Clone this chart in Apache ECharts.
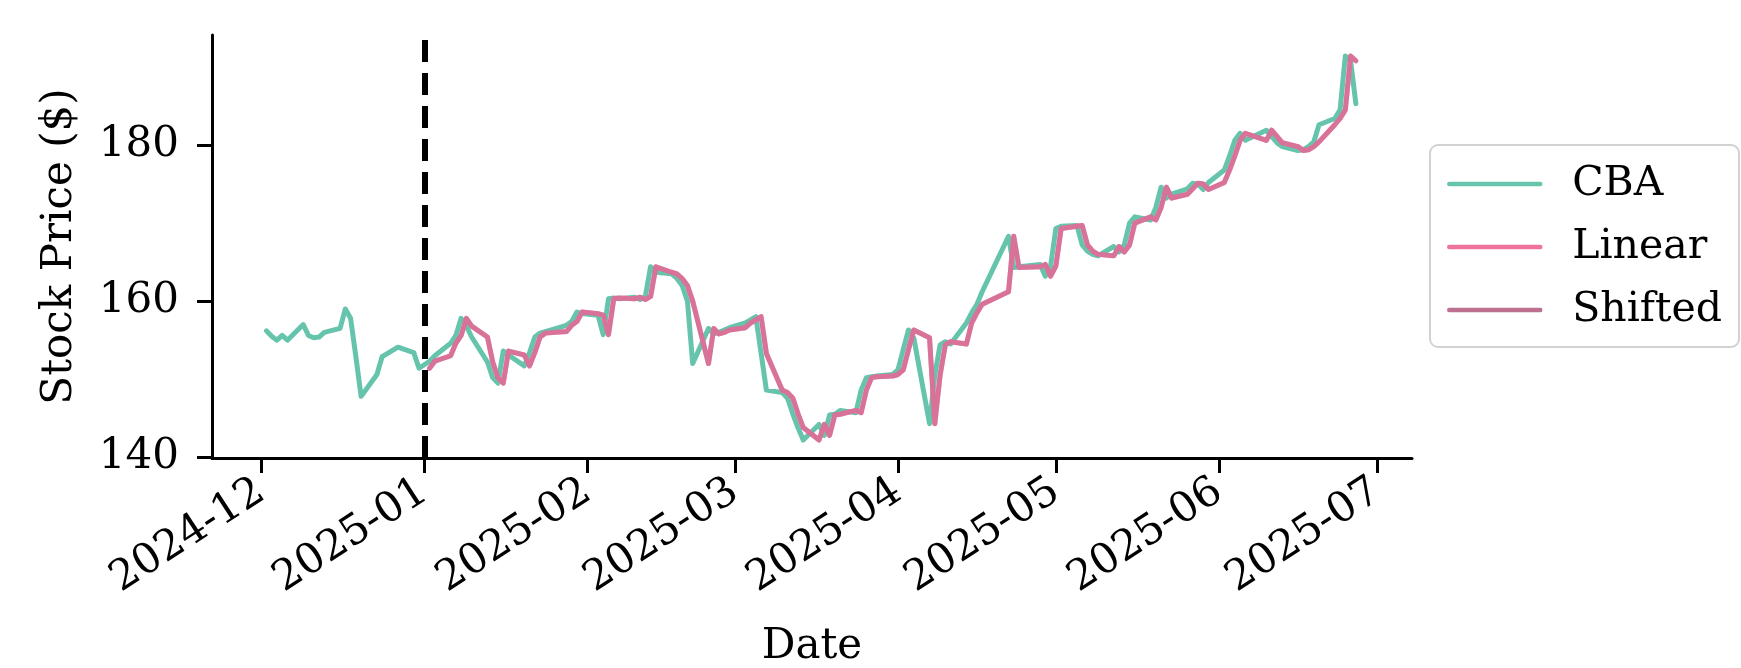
<!DOCTYPE html>
<html>
<head>
<meta charset="utf-8">
<script src="https://cdn.jsdelivr.net/npm/echarts@6/dist/echarts.min.js"></script>
<style>
  html, body { margin: 0; padding: 0; background: #ffffff; }
  #chart { width: 1741px; height: 668px; }
</style>
</head>
<body>
<div id="chart"></div>
<script>
// ASX trading days, Dec 2024 - Jun 2025
const tradingDays = [
  '2024-12-02','2024-12-03','2024-12-04','2024-12-05','2024-12-06','2024-12-09','2024-12-10','2024-12-11','2024-12-12','2024-12-13',
  '2024-12-16','2024-12-17','2024-12-18','2024-12-19','2024-12-20','2024-12-23','2024-12-24','2024-12-27','2024-12-30','2024-12-31',
  '2025-01-02','2025-01-03','2025-01-06','2025-01-07','2025-01-08','2025-01-09','2025-01-10','2025-01-13','2025-01-14','2025-01-15',
  '2025-01-16','2025-01-17','2025-01-20','2025-01-21','2025-01-22','2025-01-23','2025-01-24','2025-01-28','2025-01-29','2025-01-30','2025-01-31',
  '2025-02-03','2025-02-04','2025-02-05','2025-02-06','2025-02-07','2025-02-10','2025-02-11','2025-02-12','2025-02-13','2025-02-14',
  '2025-02-17','2025-02-18','2025-02-19','2025-02-20','2025-02-21','2025-02-24','2025-02-25','2025-02-26','2025-02-27','2025-02-28',
  '2025-03-03','2025-03-04','2025-03-05','2025-03-06','2025-03-07','2025-03-10','2025-03-11','2025-03-12','2025-03-13','2025-03-14',
  '2025-03-17','2025-03-18','2025-03-19','2025-03-20','2025-03-21','2025-03-24','2025-03-25','2025-03-26','2025-03-27','2025-03-28','2025-03-31',
  '2025-04-01','2025-04-02','2025-04-03','2025-04-04','2025-04-07','2025-04-08','2025-04-09','2025-04-10','2025-04-11',
  '2025-04-14','2025-04-15','2025-04-16','2025-04-17','2025-04-22','2025-04-23','2025-04-24','2025-04-28','2025-04-29','2025-04-30',
  '2025-05-01','2025-05-02','2025-05-05','2025-05-06','2025-05-07','2025-05-08','2025-05-09','2025-05-12','2025-05-13','2025-05-14',
  '2025-05-15','2025-05-16','2025-05-19','2025-05-20','2025-05-21','2025-05-22','2025-05-23','2025-05-26','2025-05-27','2025-05-28','2025-05-29','2025-05-30',
  '2025-06-02','2025-06-03','2025-06-04','2025-06-05','2025-06-06','2025-06-10','2025-06-11','2025-06-12','2025-06-13',
  '2025-06-16','2025-06-17','2025-06-18','2025-06-19','2025-06-20','2025-06-23','2025-06-24','2025-06-25','2025-06-26','2025-06-27'
];

// CBA closing prices ($), one per trading day
const cbaClose = [
  156.2, 155.5, 155.0, 155.6, 155.0, 157.0, 155.6, 155.3, 155.4, 156.0, 156.5, 159.0, 157.8, 152.9, 147.8, 150.6, 152.9, 154.1, 153.4, 151.4,
  152.3, 153.0, 154.6, 155.6, 157.8, 156.8, 155.4, 152.2, 150.2, 149.5, 153.6, 153.1, 151.7, 153.4, 155.4, 155.9, 156.1, 156.9, 157.4, 158.6, 158.4,
  158.2, 155.7, 160.3, 160.4, 160.3, 160.5, 160.2, 160.6, 164.4, 163.7, 163.5, 162.9, 162.0, 160.0, 152.0, 156.5, 155.8, 156.0, 156.3, 156.6,
  157.2, 157.6, 158.0, 153.3, 148.6, 148.3, 147.6, 145.6, 143.8, 142.2, 144.2, 142.8, 145.4, 145.5, 146.0, 145.7, 148.6, 150.2, 150.3, 150.4, 150.6,
  151.2, 153.8, 156.3, 155.3, 144.3, 150.5, 154.4, 154.8, 154.5, 157.2, 158.5, 159.6, 161.2, 168.3, 164.3, 164.4, 164.7, 163.2, 164.5,
  169.3, 169.6, 169.7, 167.2, 166.4, 166.0, 165.8, 167.0, 166.3, 167.2, 170.0, 170.8, 170.4, 172.0, 174.6, 173.2, 173.7, 174.4, 175.1, 175.0, 174.3, 175.2,
  176.8, 178.6, 180.6, 181.5, 180.6, 181.9, 181.1, 180.3, 179.8, 179.3, 179.4, 179.8, 180.4, 182.6, 183.4, 184.5, 191.4, 190.8, 185.3
];

// Model outputs from 2025-01-02 onward
const forecastStart = '2025-01-02';
const linearFit = [
  151.4, 152.3, 153.0, 154.6, 155.6, 157.8, 156.8, 155.4, 152.2, 150.2, 149.5, 153.6, 153.1, 151.7, 153.4, 155.4, 155.9, 156.1, 156.9, 157.4, 158.6,
  158.4, 158.2, 155.7, 160.3, 160.4, 160.3, 160.5, 160.2, 160.6, 164.4, 163.7, 163.5, 162.9, 162.0, 160.0, 152.0, 156.5, 155.8, 156.0, 156.3,
  156.6, 157.2, 157.6, 158.0, 153.3, 148.6, 148.3, 147.6, 145.6, 143.8, 142.2, 144.2, 142.8, 145.4, 145.5, 146.0, 145.7, 148.6, 150.2, 150.3, 150.4,
  150.6, 151.2, 153.8, 156.3, 155.3, 144.3, 150.5, 154.4, 154.8, 154.5, 157.2, 158.5, 159.6, 161.2, 168.3, 164.3, 164.4, 164.7, 163.2,
  164.5, 169.3, 169.6, 169.7, 167.2, 166.4, 166.0, 165.8, 167.0, 166.3, 167.2, 170.0, 170.8, 170.4, 172.0, 174.6, 173.2, 173.7, 174.4, 175.1, 175.0, 174.3,
  175.2, 176.8, 178.6, 180.6, 181.5, 180.6, 181.9, 181.1, 180.3, 179.8, 179.3, 179.4, 179.8, 180.4, 182.6, 183.4, 184.5, 191.4, 190.8
];
const shiftedFit = [
  151.4, 152.3, 153.0, 154.6, 155.6, 157.8, 156.8, 155.4, 152.2, 150.2, 149.5, 153.6, 153.1, 151.7, 153.4, 155.4, 155.9, 156.1, 156.9, 157.4, 158.6,
  158.4, 158.2, 155.7, 160.3, 160.4, 160.3, 160.5, 160.2, 160.6, 164.4, 163.7, 163.5, 162.9, 162.0, 160.0, 152.0, 156.5, 155.8, 156.0, 156.3,
  156.6, 157.2, 157.6, 158.0, 153.3, 148.6, 148.3, 147.6, 145.6, 143.8, 142.2, 144.2, 142.8, 145.4, 145.5, 146.0, 145.7, 148.6, 150.2, 150.3, 150.4,
  150.6, 151.2, 153.8, 156.3, 155.3, 144.3, 150.5, 154.4, 154.8, 154.5, 157.2, 158.5, 159.6, 161.2, 168.3, 164.3, 164.4, 164.7, 163.2,
  164.5, 169.3, 169.6, 169.7, 167.2, 166.4, 166.0, 165.8, 167.0, 166.3, 167.2, 170.0, 170.8, 170.4, 172.0, 174.6, 173.2, 173.7, 174.4, 175.1, 175.0, 174.3,
  175.2, 176.8, 178.6, 180.6, 181.5, 180.6, 181.9, 181.1, 180.3, 179.8, 179.3, 179.4, 179.8, 180.4, 182.6, 183.4, 184.5, 191.4, 190.8
];

const monthTicks = ['2024-12', '2025-01', '2025-02', '2025-03', '2025-04', '2025-05', '2025-06', '2025-07'];
const priceTicks = [140, 160, 180];
const splitDate = '2025-01-01';

const FONT = "'DejaVu Serif', serif";
const COLORS = { cba: '#66c4ad', linear: '#ef739e', shifted: '#bd7190' };

function toTs(s) {
  const p = s.split('-').map(Number);
  return Date.UTC(p[0], p[1] - 1, p[2] || 1);
}

const monthValues = monthTicks.map(toTs);
const monthLabelOf = {};
monthTicks.forEach((m, i) => { monthLabelOf[monthValues[i]] = m; });

const cbaData = tradingDays.map((d, i) => [toTs(d), cbaClose[i]]);
const fcDays = tradingDays.slice(tradingDays.indexOf(forecastStart));
const linearData = fcDays.map((d, i) => [toTs(d), linearFit[i]]);
const shiftedData = fcDays.map((d, i) => [toTs(d), shiftedFit[i]]);

const chart = echarts.init(document.getElementById('chart'), null, { renderer: 'canvas' });

const lineBase = { type: 'line', symbol: 'none', showSymbol: false, smooth: false, animation: false };

chart.setOption({
  backgroundColor: '#ffffff',
  animation: false,
  textStyle: { fontFamily: FONT },
  grid: { left: 212, right: 329, top: 35, bottom: 210, containLabel: false, outerBoundsMode: 'none' },
  xAxis: {
    type: 'value',
    min: Date.UTC(2024, 10, 21, 16),
    max: Date.UTC(2025, 6, 7, 16),
    name: 'Date',
    nameLocation: 'middle',
    nameGap: 168,
    nameTextStyle: { fontFamily: FONT, fontSize: 42, color: '#000' },
    axisLine: { show: true, onZero: false, lineStyle: { color: '#000', width: 3 } },
    axisTick: { show: true, length: 15, lineStyle: { color: '#000', width: 3 }, customValues: monthValues },
    axisLabel: {
      customValues: monthValues,
      rotate: 33,
      margin: 30,
      fontFamily: FONT, fontSize: 42, color: '#000',
      formatter: v => monthLabelOf[v] || ''
    },
    splitLine: { show: false }
  },
  yAxis: {
    type: 'value',
    min: 139.9,
    max: 194.1,
    name: 'Stock Price ($)',
    nameLocation: 'middle',
    nameRotate: 90,
    nameGap: 131,
    nameTextStyle: { fontFamily: FONT, fontSize: 42, color: '#000' },
    axisLine: { show: true, lineStyle: { color: '#000', width: 3 } },
    axisTick: { show: true, length: 15, lineStyle: { color: '#000', width: 3 }, customValues: priceTicks },
    axisLabel: { customValues: priceTicks, margin: 33, fontFamily: FONT, fontSize: 42, color: '#000' },
    splitLine: { show: false }
  },
  legend: {
    orient: 'vertical',
    left: 1430,
    top: 145,
    padding: [16, 17, 14, 17],
    itemWidth: 91,
    itemHeight: 46,
    itemGap: 17,
    backgroundColor: '#ffffff',
    borderColor: '#d2d2d2',
    borderWidth: 2,
    borderRadius: 8,
    itemStyle: { opacity: 0 },
    lineStyle: { width: 4.5, opacity: 1 },
    textStyle: { fontFamily: FONT, fontSize: 41, color: '#000', lineHeight: 46, padding: [0, 0, 0, 27] },
    data: ['CBA', 'Linear', 'Shifted']
  },
  series: [
    Object.assign({}, lineBase, {
      name: 'CBA',
      data: cbaData,
      z: 2,
      color: COLORS.cba,
      lineStyle: { color: COLORS.cba, width: 5, join: 'round', cap: 'round' }
    }),
    Object.assign({}, lineBase, {
      name: 'Linear',
      data: linearData,
      z: 3,
      color: COLORS.linear,
      lineStyle: { color: COLORS.linear, width: 5, join: 'round', cap: 'round' }
    }),
    Object.assign({}, lineBase, {
      name: 'Shifted',
      data: shiftedData,
      z: 4,
      color: COLORS.shifted,
      lineStyle: { color: COLORS.shifted, width: 5, opacity: 0.45, join: 'round', cap: 'round' },
      markLine: {
        silent: true,
        symbol: ['none', 'none'],
        label: { show: false },
        z: 10,
        lineStyle: { color: '#000', width: 6, type: [22, 11], opacity: 1 },
        data: [{ xAxis: toTs(splitDate) }]
      }
    })
  ]
});
</script>
</body>
</html>
